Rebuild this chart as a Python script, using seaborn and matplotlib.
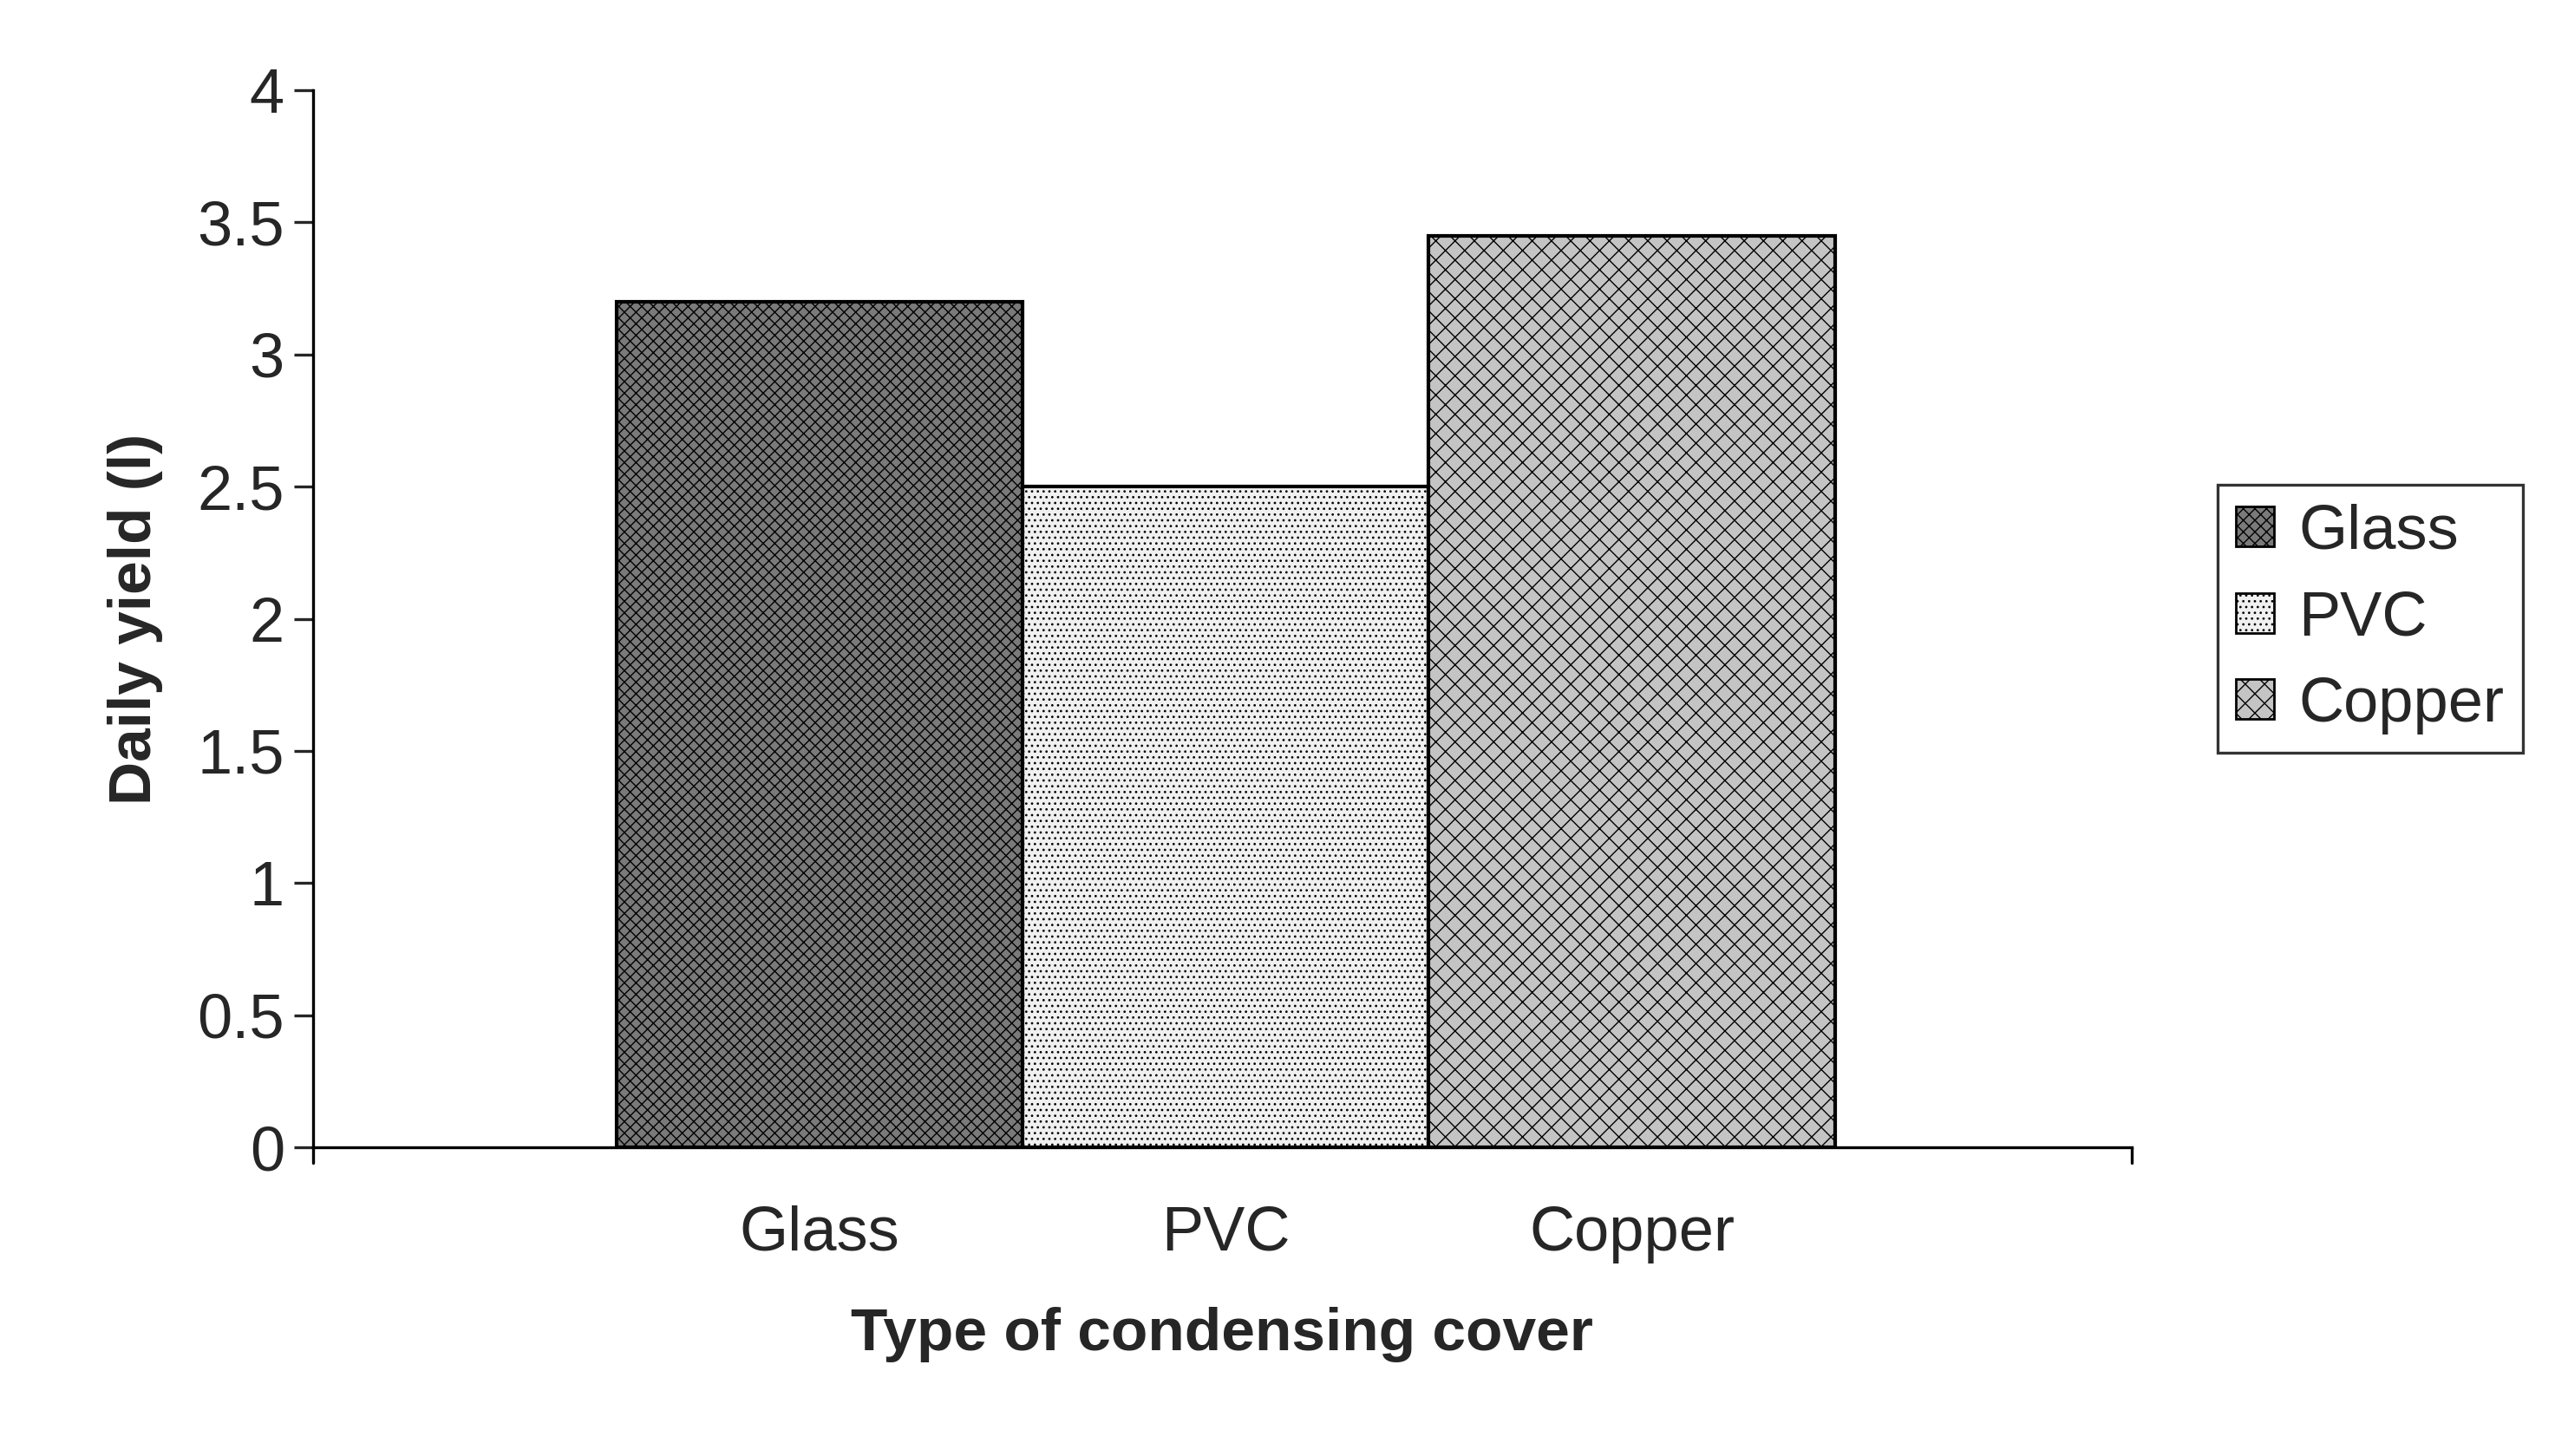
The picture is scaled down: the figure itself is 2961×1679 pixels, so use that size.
import matplotlib
matplotlib.use("Agg")
import matplotlib.pyplot as plt
import seaborn as sns
import pandas as pd
from matplotlib.patches import Patch

covers = ["Glass", "PVC", "Copper"]
daily_yield = [3.2, 2.5, 3.45]
y_ticks = [0, 0.5, 1, 1.5, 2, 2.5, 3, 3.5, 4]

sns.set_style("white")
plt.rcParams['font.family'] = ['Liberation Sans', 'DejaVu Sans']
plt.rcParams['hatch.linewidth'] = 0.5
plt.rcParams['hatch.color'] = '#333333'

faces = ["#7a7a7a", "#f0f0f0", "#c4c4c4"]
hatches = ["xxxxx", ".....", "xxx"]

df = pd.DataFrame({"cover": covers, "yield": daily_yield})
fig = plt.figure(figsize=(14.805, 8.395), dpi=200)
ax = fig.add_axes([0.122, 0.212, 0.708, 0.726])
sns.barplot(data=df, x="cover", y="yield", ax=ax, width=1.0,
            palette=faces, hue="cover", legend=False,
            edgecolor="black", linewidth=1.5)
for bar, h in zip(ax.patches, hatches):
    bar.set_hatch(h)
    bar.set_edgecolor("black")

ax.set_xlim(-1.246, 3.23)
ax.set_ylim(0, 4)
ax.set_yticks(y_ticks)
ax.set_yticklabels([f"{t:g}" for t in y_ticks], fontsize=26)
ax.set_xticks(range(3))
ax.set_xticklabels(covers, fontsize=26)
ax.tick_params(axis="x", length=0, pad=24)
ax.tick_params(axis="y", length=8, width=1.2, direction="out", left=True, pad=4)
for t in [-1.246, 3.23]:
    ax.plot([t, t], [0, -0.06], color="black", lw=1.2, clip_on=False)
for s in ["top", "right"]:
    ax.spines[s].set_visible(False)
for s in ["left", "bottom"]:
    ax.spines[s].set_color("black")
    ax.spines[s].set_linewidth(1.2)

ax.set_xlabel("Type of condensing cover", fontsize=25, fontweight="bold", labelpad=18)
ax.set_ylabel("Daily yield (l)", fontsize=25, fontweight="bold", labelpad=14)

handles = [Patch(facecolor=f, hatch=h, edgecolor="black", label=c)
           for f, h, c in zip(faces, hatches, covers)]
leg = ax.legend(handles=handles, loc="center left", bbox_to_anchor=(1.03, 0.5),
                fontsize=26, frameon=True, fancybox=False, edgecolor="black",
                handlelength=0.6, handleheight=0.6, handletextpad=0.4,
                labelspacing=0.45, borderpad=0.3)
leg.get_frame().set_linewidth(1.2)

fig.savefig("out.png", dpi=200)
